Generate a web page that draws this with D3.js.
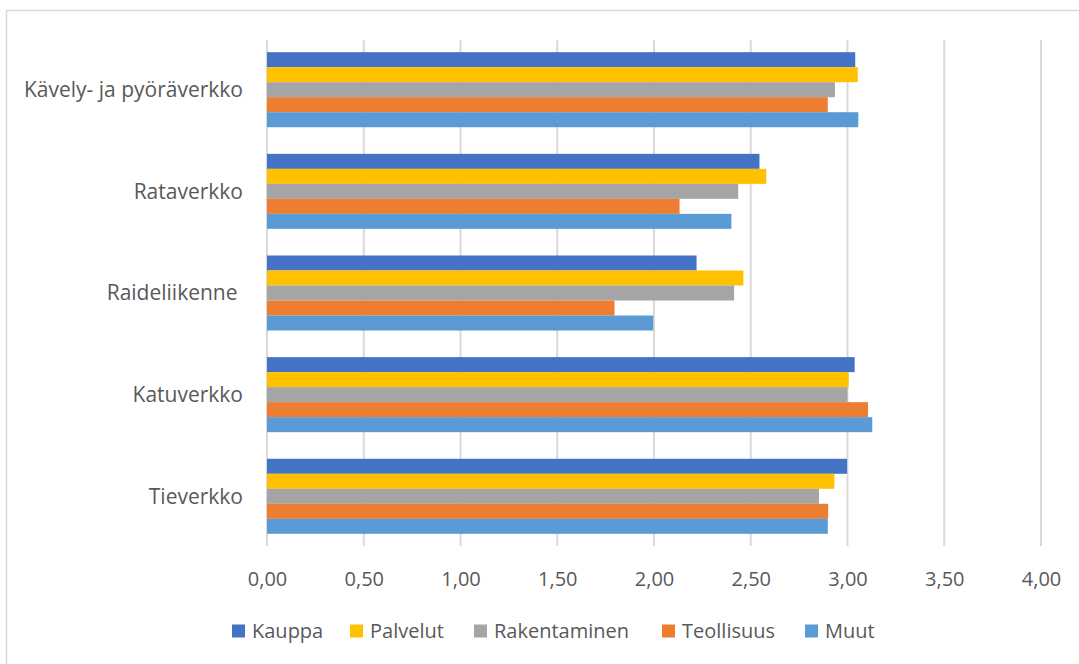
<!DOCTYPE html>
<html>
<head>
<meta charset="utf-8">
<script src="https://cdn.jsdelivr.net/npm/d3@7"></script>
<style>
  body { margin: 0; background: #fff; }
  svg text { font-family: "Open Sans", "Noto Sans", sans-serif; fill: #595959; white-space: pre; }
</style>
</head>
<body>
<svg id="chart" width="1079" height="664"></svg>
<script>
const categories = ['Kävely- ja pyöräverkko', 'Rataverkko', 'Raideliikenne ', 'Katuverkko', 'Tieverkko'];
const seriesNames = ['Kauppa', 'Palvelut', 'Rakentaminen', 'Teollisuus', 'Muut'];
const seriesColors = ['#4472c4', '#ffc000', '#a5a5a5', '#ed7d31', '#5b9bd5'];
// values per series, in the order of categories
const kauppa = [3.04, 2.545, 2.22, 3.037, 2.998];
const palvelut = [3.053, 2.58, 2.462, 3.006, 2.932];
const rakentaminen = [2.935, 2.435, 2.414, 3.0, 2.853];
const teollisuus = [2.898, 2.132, 1.796, 3.106, 2.9];
const muut = [3.056, 2.40, 1.996, 3.128, 2.898];
const tickValues = [0, 0.5, 1, 1.5, 2, 2.5, 3, 3.5, 4];

const seriesValues = [kauppa, palvelut, rakentaminen, teollisuus, muut];

const svg = d3.select('#chart');

// outer chart border
svg.append('rect')
    .attr('x', 6.5).attr('y', 10.5)
    .attr('width', 1090).attr('height', 680)
    .attr('fill', 'none')
    .attr('stroke', '#d9d9d9')
    .attr('stroke-width', 1.5);

const plotLeft = 267, plotRight = 1041, plotTop = 40, plotBottom = 546;

const x = d3.scaleLinear().domain([0, 4]).range([plotLeft, plotRight]);
const y = d3.scaleBand().domain(categories).range([plotTop, plotBottom]).paddingInner(0.262).paddingOuter(0.12);
const yInner = d3.scaleBand().domain(seriesNames).range([0, y.bandwidth()]);

// gridlines
svg.append('g')
    .selectAll('line')
    .data(tickValues)
    .enter()
    .append('line')
    .attr('x1', d => x(d)).attr('x2', d => x(d))
    .attr('y1', plotTop).attr('y2', plotBottom)
    .attr('stroke', '#d9d9d9')
    .attr('stroke-width', 2);

// bars
const groups = svg.append('g')
    .selectAll('g')
    .data(categories)
    .enter()
    .append('g')
    .attr('transform', d => `translate(0, ${y(d)})`);

groups.selectAll('rect')
    .data((c, ci) => seriesNames.map((s, si) => ({ s: s, v: seriesValues[si][ci], color: seriesColors[si] })))
    .enter()
    .append('rect')
    .attr('x', x(0))
    .attr('y', d => yInner(d.s))
    .attr('width', d => x(d.v) - x(0))
    .attr('height', yInner.bandwidth())
    .attr('fill', d => d.color);

// x axis labels
const fmt = d => d.toFixed(2).replace('.', ',');
const xAxis = d3.axisBottom(x).tickValues(tickValues).tickFormat(fmt).tickSize(0).tickPadding(0);
const xg = svg.append('g').attr('transform', `translate(0, ${plotBottom + 40})`).call(xAxis);
xg.select('.domain').remove();
xg.selectAll('text').attr('font-size', 20).attr('dy', 0).style('font-family', null).attr('fill', null);

// category labels
const yAxis = d3.axisLeft(y).tickSize(0).tickPadding(0);
const yg = svg.append('g').attr('transform', `translate(${plotLeft - 24}, 0)`).call(yAxis);
yg.select('.domain').remove();
yg.selectAll('text').attr('font-size', 21).attr('dy', '0.35em').style('font-family', null).attr('fill', null);

// legend
const legendX = [232, 350, 474, 662, 805];
const legend = svg.append('g')
    .selectAll('g')
    .data(seriesNames)
    .enter()
    .append('g')
    .attr('transform', (d, i) => `translate(${legendX[i]}, 631)`);

legend.append('rect')
    .attr('x', 0).attr('y', -6.5)
    .attr('width', 13).attr('height', 13)
    .attr('fill', (d, i) => seriesColors[i]);

legend.append('text')
    .attr('x', 20).attr('y', 0)
    .attr('dy', '0.35em')
    .attr('font-size', 20)
    .text(d => d);
</script>
</body>
</html>
